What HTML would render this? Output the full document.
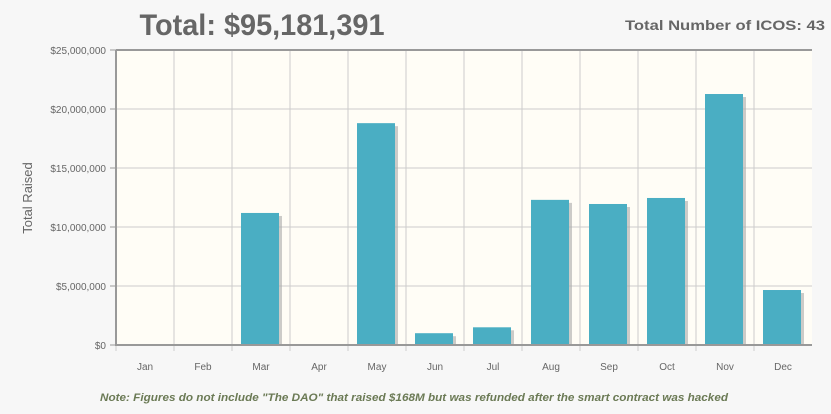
<!DOCTYPE html>
<html><head><meta charset="utf-8"><style>
body{margin:0;width:831px;height:409px;background:#f7f7f7;font-family:"Liberation Sans",sans-serif;overflow:hidden}
</style></head><body>
<svg width="831" height="409" id="c">
<text x="262" y="35" text-anchor="middle" font-size="30" font-weight="bold" fill="#666" textLength="245" lengthAdjust="spacingAndGlyphs">Total: $95,181,391</text>
<text x="725" y="30" text-anchor="middle" font-size="14" font-weight="bold" fill="#666" textLength="200" lengthAdjust="spacingAndGlyphs">Total Number of ICOS: 43</text>
<rect x="116" y="50" width="696" height="295" fill="#fffdf6"/>
<g id="grid"></g><g id="bars"></g><g id="axes"></g>
<text transform="translate(32,198) rotate(-90)" text-anchor="middle" font-size="13" fill="#666">Total Raised</text>
<text x="414" y="401" text-anchor="middle" font-size="11" font-style="italic" font-weight="bold" fill="#6b7a55" textLength="628" lengthAdjust="spacingAndGlyphs">Note: Figures do not include "The DAO" that raised $168M but was refunded after the smart contract was hacked</text>
</svg>
<script>
const categories=["Jan","Feb","Mar","Apr","May","Jun","Jul","Aug","Sep","Oct","Nov","Dec"];
const values=[0,0,11190000,0,18800000,1000000,1500000,12300000,11950000,12460000,21270000,4660000];
const yTicks=[0,5000000,10000000,15000000,20000000,25000000];
const tickLabels=["$0","$5,000,000","$10,000,000","$15,000,000","$20,000,000","$25,000,000"];
const NS="http://www.w3.org/2000/svg";
const L=116,R=812,T=50,B=345,bw=(R-L)/categories.length;
const y=v=>B-(v/25000000)*(B-T);
const x=i=>L+i*bw;
function mk(p,tag,a){const e=document.createElementNS(NS,tag);for(const k in a)e.setAttribute(k,a[k]);document.getElementById(p).appendChild(e);return e;}
yTicks.forEach((t,i)=>{
 const g=mk("grid","line",{x1:L,x2:R,y1:y(t),y2:y(t),stroke:"#ccc","stroke-width":1});
 
 
 const tk=mk("axes","line",{x1:L-6,x2:L,y1:y(t),y2:y(t),stroke:"#999"});
 
 
 const tx=mk("axes","text",{x:L-10,y:y(t)+4,"text-anchor":"end","font-size":10,fill:"#666"});
 tx.textContent=tickLabels[i];
 
 
});
categories.forEach((c,i)=>{
 if(i>0){const g=mk("grid","line",{x1:x(i),x2:x(i),y1:T,y2:B,stroke:"#ccc"});
 
 }
 const tk=mk("axes","line",{x1:x(i),x2:x(i),y1:B,y2:B+6,stroke:"#ccc"});
 
 
 const tx=mk("axes","text",{x:x(i)+bw/2,y:B+25,"text-anchor":"middle","font-size":10,fill:"#666"});
 tx.textContent=c;
 
 
 if(values[i]>0){
  const h=B-y(values[i]);
  const s=mk("bars","rect",{x:x(i)+12,y:y(values[i])+3,width:38,height:h-3,fill:"#aaa",opacity:0.6});
  
  
  const b=mk("bars","rect",{x:x(i)+9,y:y(values[i]),width:38,height:h,fill:"#4aaec3"});
  
  
 }
});
const ax=mk("axes","path",{d:`M${L},${T} H${R} M${L},${T} V${B} H${R}`,stroke:"#999","stroke-width":2,fill:"none"});


</script>
</body></html>
